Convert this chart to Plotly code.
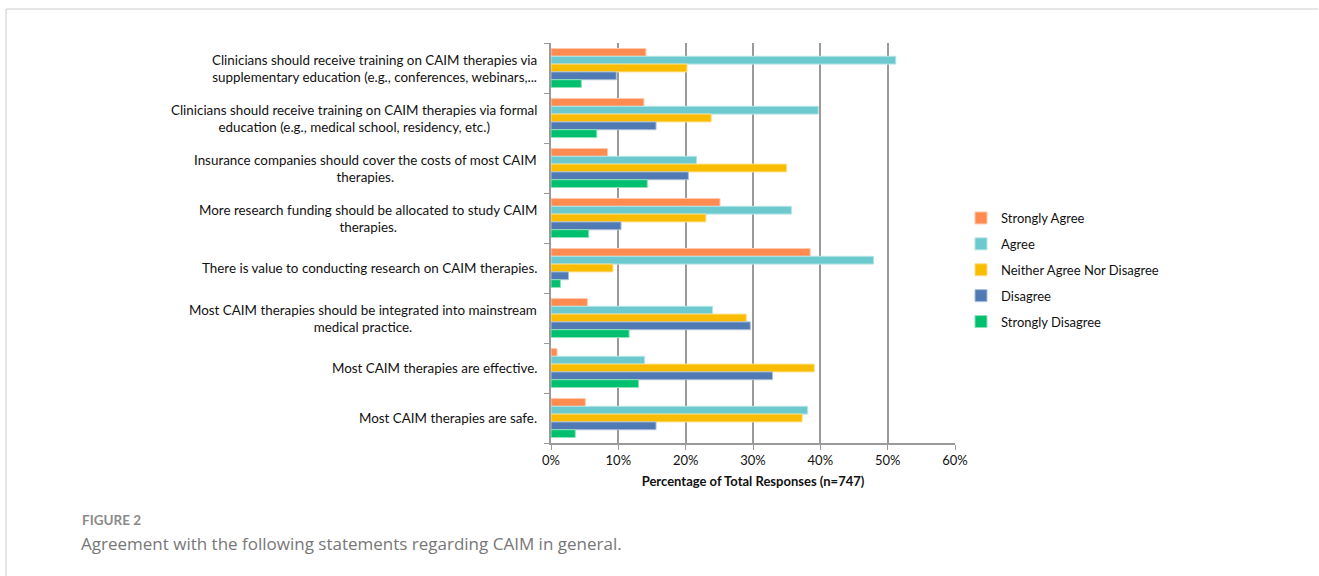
import plotly.graph_objects as go

# Survey statements (top to bottom) and response shares (%)
statements = [
    "Clinicians should receive training on CAIM therapies via<br>supplementary education (e.g., conferences, webinars,...",
    "Clinicians should receive training on CAIM therapies via formal<br>education (e.g., medical school, residency, etc.)",
    "Insurance companies should cover the costs of most CAIM<br>therapies.",
    "More research funding should be allocated to study CAIM<br>therapies.",
    "There is value to conducting research on CAIM therapies.",
    "Most CAIM therapies should be integrated into mainstream<br>medical practice.",
    "Most CAIM therapies are effective.",
    "Most CAIM therapies are safe.",
]

strongly_agree = [14.1, 13.8, 8.4, 25.1, 38.5, 5.4, 0.9, 5.1]
agree = [51.2, 39.7, 21.6, 35.7, 47.9, 24.0, 13.9, 38.1]
neither = [20.2, 23.8, 35.0, 23.0, 9.2, 29.0, 39.1, 37.3]
disagree = [9.7, 15.6, 20.4, 10.4, 2.6, 29.6, 32.9, 15.6]
strongly_disagree = [4.5, 6.8, 14.3, 5.6, 1.4, 11.6, 13.0, 3.6]

series_names = ["Strongly Agree", "Agree", "Neither Agree Nor Disagree",
                "Disagree", "Strongly Disagree"]
series_values = [strongly_agree, agree, neither, disagree, strongly_disagree]
series_colors = ["#FF8B50", "#6CC9CD", "#F9BC00", "#4F7AB3", "#00BF6F"]
border_colors = ["#FFC9AD", "#B5E5E7", "#FCDF88", "#A9BFDB", "#8CE0BA"]

x_ticks = [0, 10, 20, 30, 40, 50, 60]
x_tick_text = [f"{t}%" for t in x_ticks]

W, H = 1319, 576
L, R, T, B = 551, 364, 43, 133
pw, ph = W - L - R, H - T - B

label_font = "Lato, 'Open Sans', sans-serif"

fig = go.Figure()
for i, (name, vals, col, bcol) in enumerate(zip(series_names, series_values,
                                                 series_colors, border_colors)):
    fig.add_trace(go.Bar(
        y=list(range(len(statements))), x=vals, name=name, orientation="h",
        marker=dict(color=col, line=dict(color=bcol, width=1)),
        legendgroup=f"g{i}",
    ))

# Category labels, centred line by line, placed left of the axis
annotations = []
for i, s in enumerate(statements):
    annotations.append(dict(
        x=0, xref="paper", y=i, yref="y", text=s, showarrow=False,
        xanchor="right", yanchor="middle", align="center", xshift=-12,
        font=dict(family=label_font, size=13.4, color="#111111"),
    ))

def px_x(px):
    return (px - L) / pw

def px_y(py):
    return (H - B - py) / ph

annotations += [
    dict(x=px_x(80), y=px_y(520), xref="paper", yref="paper", text="FIGURE 2",
         showarrow=False, xanchor="left", yanchor="middle",
         font=dict(family=label_font, size=13.5, color="#8a8a8a", weight="bold")),
    dict(x=px_x(79), y=px_y(543), xref="paper", yref="paper",
         text="Agreement with the following statements regarding CAIM in general.",
         showarrow=False, xanchor="left", yanchor="middle",
         font=dict(family="'Open Sans', sans-serif", size=17, color="#777777")),
]

shapes = [
    dict(type="line", xref="paper", yref="paper", x0=px_x(6), x1=px_x(1318),
         y0=px_y(9), y1=px_y(9), line=dict(color="#cccccc", width=1)),
    dict(type="line", xref="paper", yref="paper", x0=px_x(6), x1=px_x(6),
         y0=px_y(9), y1=px_y(580), line=dict(color="#cccccc", width=1)),
]

fig.update_layout(
    width=W, height=H,
    margin=dict(l=L, r=R, t=T, b=B),
    paper_bgcolor="white", plot_bgcolor="white",
    barmode="group", bargap=0.22, bargroupgap=0.0,
    font=dict(family=label_font, size=13, color="#111111"),
    showlegend=True,
    legend=dict(x=px_x(961), y=px_y(203), xanchor="left", yanchor="top",
                traceorder="grouped", tracegroupgap=6,
                font=dict(family=label_font, size=13, color="#111111"),
                itemwidth=30),
    annotations=annotations, shapes=shapes,
)
fig.update_xaxes(
    range=[0, 60], tickvals=x_ticks, ticktext=x_tick_text,
    showgrid=True, gridcolor="#9a9a9a", gridwidth=1.5,
    showline=True, linecolor="#9a9a9a", linewidth=1.5,
    ticks="outside", ticklen=5, tickcolor="#9a9a9a",
    zeroline=False,
    tickfont=dict(family=label_font, size=13, color="#111111"),
    title=dict(text="<b>Percentage of Total Responses (n=747)</b>",
               font=dict(family=label_font, size=13, color="#111111"),
               standoff=10),
)
fig.update_yaxes(
    range=[len(statements) - 0.5, -0.5], showticklabels=False,
    tickvals=[i + 0.5 for i in range(-1, len(statements))],
    showgrid=False, zeroline=False,
    showline=True, linecolor="#9a9a9a", linewidth=1.5,
    ticks="outside", ticklen=5, tickcolor="#9a9a9a",
)

fig.write_html("out.html")
